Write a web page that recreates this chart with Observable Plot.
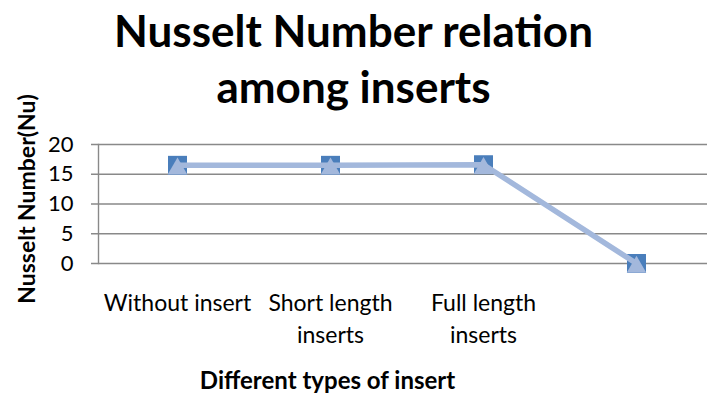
<!DOCTYPE html>
<html><head><meta charset="utf-8">
<script src="https://cdn.jsdelivr.net/npm/d3@7"></script>
<script src="https://cdn.jsdelivr.net/npm/@observablehq/plot@0.6"></script>
<style>
body{margin:0;background:#fff;}
#title{width:707px;height:118px;text-align:center;font-family:Lato,sans-serif;font-weight:bold;font-size:44px;line-height:56px;padding-top:2px;box-sizing:border-box;color:#000;white-space:pre-line;}
#chart svg{overflow:visible;}
</style></head><body>
<div id="title"></div><div id="chart"></div>
<script>
const titleLines = ["Nusselt Number relation", "among inserts"];
const categories = ["Without insert", "Short length inserts", "Full length inserts", ""];
const tickLabels = ["Without insert", "Short length\ninserts", "Full length\ninserts", ""];
const values = [16.5, 16.5, 16.6, 0];
const yTicks = [0, 5, 10, 15, 20];
const yLabel = "Nusselt Number(Nu)";
const xLabel = "Different types of insert";

document.getElementById("title").textContent = titleLines.join("\n");
const data = categories.map((c, i) => ({cat: c, v: values[i]}));
const grid = "#898989";
const dark = "#4a7ebb";
const light = "#a3b8dc";

const plot = Plot.plot({
  width: 707, height: 282,
  marginLeft: 98, marginRight: 0, marginTop: 26, marginBottom: 137,
  style: {fontFamily: "Lato, sans-serif", fontSize: "22px", color: "#000", overflow: "visible", background: "transparent"},
  x: {type: "point", domain: categories, range: [176, 637], padding: 0},
  y: {domain: [0, 20]},
  marks: [
    Plot.ruleY(yTicks, {stroke: grid, strokeWidth: 1.4, insetLeft: -7}),
    Plot.frame({anchor: "left", stroke: grid, strokeWidth: 1.4}),
    Plot.axisY({ticks: yTicks, tickSize: 0, tickPadding: 25, fontSize: 22, label: null}),
    Plot.axisX({tickSize: 0, tickPadding: 25, fontSize: 23, lineHeight: 1.39, label: null,
      tickFormat: d => tickLabels[categories.indexOf(d)]}),
    Plot.dot(data, {x: "cat", y: "v", symbol: "square", r: 10.7, fill: dark}),
    Plot.line(data, {x: "cat", y: "v", stroke: light, strokeWidth: 5.5}),
    Plot.dot(data, {x: "cat", y: "v", symbol: "triangle", r: 7.3, dy: 3.5, fill: light}),
    Plot.text([yLabel], {frameAnchor: "left", text: d => d, rotate: -90, dx: -71, dy: -5, fontSize: 23, fontWeight: "bold", textAnchor: "middle"}),
    Plot.text([xLabel], {frameAnchor: "bottom-left", text: d => d, dx: 229, dy: 125, fontSize: 24, fontWeight: "bold", textAnchor: "middle"})
  ]
});
document.getElementById("chart").appendChild(plot);
</script>
</body></html>
